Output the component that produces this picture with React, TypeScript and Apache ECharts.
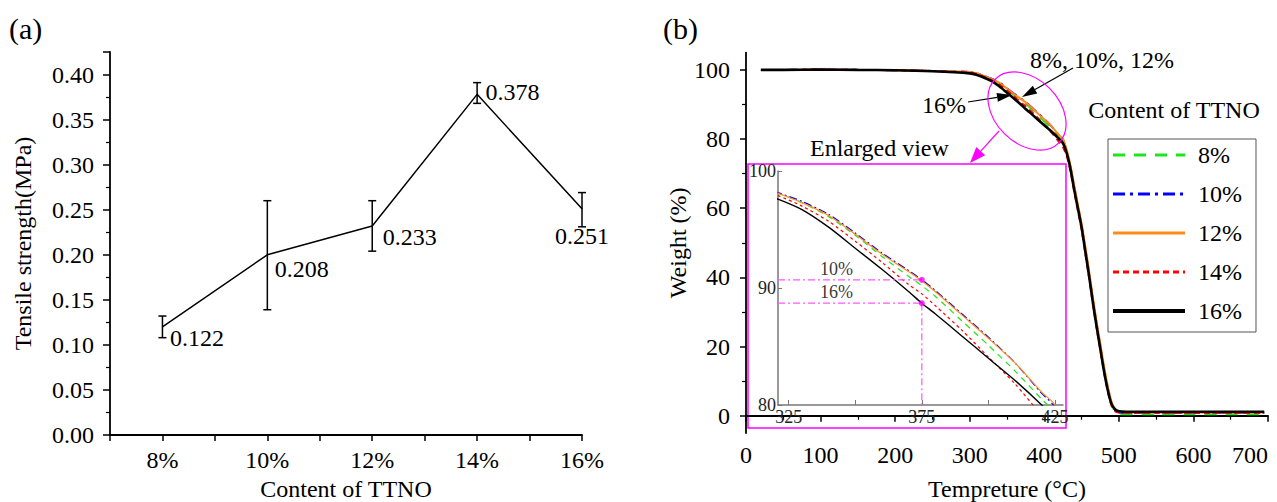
import React, { useEffect, useRef } from "react";
import * as echarts from "echarts";

const FONT = "Liberation Serif";

// ---- (a) tensile strength ----
const contents = [8, 10, 12, 14, 16];
const strength = [0.12, 0.2, 0.232, 0.378, 0.251];
const strengthLabels = ["0.122", "0.208", "0.233", "0.378", "0.251"];
const errLow = [0.108, 0.139, 0.204, 0.368, 0.231];
const errHigh = [0.132, 0.26, 0.26, 0.391, 0.269];

// ---- (b) TGA ----
const temps = [20, 50, 100, 150, 200, 250, 300, 310,
  321, 330, 340, 350, 360, 370, 375, 380, 390, 400, 410, 420, 425,
  430, 435, 440, 445, 450, 455, 460, 465, 470, 475, 480, 485, 490, 495, 500,
  510, 550, 600, 650, 695];
const w8 = [100, 100, 100.1, 100, 99.9, 99.7, 99.3, 98.9,
  98.1, 97.3, 96.1, 94.5, 92.7, 91.0, 90.2, 89.3, 87.2, 85.1, 82.9, 80.5, 79.3,
  76.3, 71.8, 66.0, 60.3, 54.8, 48.0, 41.0, 33.5, 26.5, 20.0, 13.5, 8.0, 3.5, 1.2, 0.5,
  0.4, 0.4, 0.4, 0.4, 0.4];
const w10 = [100, 100, 100.1, 100, 99.9, 99.7, 99.4, 99.0,
  98.15, 97.4, 96.3, 94.7, 93.0, 91.5, 90.7, 89.8, 87.8, 85.8, 83.6, 81.0, 79.8,
  76.5, 72.0, 66.3, 60.6, 55.0, 48.3, 41.3, 33.8, 26.8, 20.3, 13.8, 8.2, 3.8, 1.6, 1.0,
  0.8, 0.8, 0.8, 0.8, 0.8];
const w12 = [100, 100, 100.1, 100, 99.9, 99.7, 99.4, 99.0,
  98.1, 97.3, 96.2, 94.6, 92.9, 91.4, 90.6, 89.7, 87.7, 85.7, 83.6, 81.1, 80.0,
  76.9, 72.5, 66.8, 61.2, 55.6, 49.0, 42.0, 34.5, 27.5, 21.0, 14.5, 8.8, 4.2, 1.9, 1.1,
  0.9, 0.9, 0.9, 0.9, 0.9];
const w14 = [100, 100, 100.1, 100, 99.9, 99.7, 99.2, 98.8,
  97.9, 97.0, 95.7, 94.0, 92.2, 90.3, 89.5, 88.5, 86.4, 84.1, 81.8, 79.1, 77.7,
  75.2, 70.8, 65.0, 59.3, 53.8, 47.0, 40.0, 32.6, 25.6, 19.2, 12.7, 7.2, 3.0, 1.3, 0.9,
  0.8, 0.8, 0.8, 0.8, 0.8];
const w16 = [100, 100, 100.1, 100, 99.9, 99.6, 99.0, 98.5,
  97.6, 96.7, 95.2, 93.4, 91.6, 89.7, 88.7, 87.8, 85.9, 84.0, 82.1, 80.0, 78.8,
  76.0, 71.5, 65.5, 60.0, 54.5, 47.5, 40.5, 33.0, 26.0, 19.5, 13.0, 7.5, 3.5, 1.8, 1.3,
  1.15, 1.15, 1.15, 1.15, 1.15];
const seriesNames = ["8%", "10%", "12%", "14%", "16%"];
const weights = [w8, w10, w12, w14, w16];

const yTicksMajor = [0, 20, 40, 60, 80, 100];
const yTicksMinor = [10, 30, 50, 70, 90];
const insetXLabels = [325, 375, 425];
const insetXTicks = [325, 350, 375, 400, 425];
const guideTemp = 375;
const guideWeights = [90.7, 88.7];
const guideLabels = ["10%", "16%"];
const guideLabelTemp = 343;

const lineStyles: any[] = [
  { color: "#1ee61e", width: 2, type: [12, 9] },
  { color: "#0000ff", width: 2, type: [12, 5, 3, 5] },
  { color: "#ff8c1a", width: 2, type: "solid" },
  { color: "#ff0000", width: 2, type: [6, 4] },
  { color: "#000000", width: 2.6, type: "solid" },
];
const legendWidths = [3, 3, 3, 3, 4];
const insetStyles: any[] = [
  { width: 1.2, type: [6, 5] },
  { width: 1.2, type: [8, 3, 2, 3] },
  { width: 1.2, type: "solid" },
  { width: 1.2, type: [3, 3] },
  { width: 1.4, type: "solid" },
];

function arrow(x1: number, y1: number, x2: number, y2: number, color: string, len: number, half: number) {
  const dx = x2 - x1, dy = y2 - y1;
  const L = Math.hypot(dx, dy);
  const ux = dx / L, uy = dy / L;
  const bx = x2 - ux * len, by = y2 - uy * len;
  const px = -uy, py = ux;
  return [
    { type: "line", shape: { x1, y1, x2: bx, y2: by }, style: { stroke: color, lineWidth: 1.2 } },
    { type: "polygon", shape: { points: [[x2, y2], [bx + px * half, by + py * half], [bx - px * half, by - py * half]] }, style: { fill: color } },
  ];
}

const labelOffsets: any[] = [
  { position: "right", offset: [2, 11] },
  { position: "right", offset: [2, 14] },
  { position: "right", offset: [5, 11] },
  { position: "right", offset: [3, -2] },
  { position: "bottom", offset: [0, 10] },
];

export default function App() {
  const ref = useRef<HTMLDivElement>(null);
  useEffect(() => {
    document.body.style.margin = "0";
    const chart = echarts.init(ref.current!, undefined, { renderer: "svg" });
    const txt = { fontFamily: FONT, color: "#000" };
    const axisBlack = { lineStyle: { color: "#000", width: 1.8 } };

    const mainSeries = weights.map((w, i) => ({
      name: seriesNames[i],
      type: "line",
      xAxisIndex: 1,
      yAxisIndex: 1,
      symbol: "none",
      smooth: 0.25,
      lineStyle: lineStyles[i],
      itemStyle: { color: lineStyles[i].color },
      data: temps.map((t, k) => [t, w[k]]),
      z: 3 + i,
    }));
    const insetSeries = weights.map((w, i) => ({
      name: seriesNames[i],
      type: "line",
      xAxisIndex: 2,
      yAxisIndex: 3,
      symbol: "none",
      smooth: 0.25,
      clip: true,
      lineStyle: { ...lineStyles[i], ...insetStyles[i] },
      itemStyle: { color: lineStyles[i].color },
      data: temps.map((t, k) => [t, w[k]]),
      z: 3 + i,
    }));
    const guideStyle = { color: "#ff55ff", width: 1.2, type: [7, 3, 2, 3] };
    const guideSeries: any[] = [
      ...guideWeights.map((g, i) => ({
        name: "guide" + i, type: "line", xAxisIndex: 2, yAxisIndex: 3, symbol: "none",
        lineStyle: guideStyle, data: [[321, g], [guideTemp, g]], z: 10,
      })),
      {
        name: "guideV", type: "line", xAxisIndex: 2, yAxisIndex: 3, symbol: "none",
        lineStyle: guideStyle, data: [[guideTemp, guideWeights[1]], [guideTemp, 80]], z: 10,
      },
      {
        name: "guideDots", type: "scatter", xAxisIndex: 2, yAxisIndex: 3, symbolSize: 6,
        itemStyle: { color: "#ff00ff" }, data: guideWeights.map((g) => [guideTemp, g]), z: 11,
      },
      {
        name: "guideText", type: "scatter", xAxisIndex: 2, yAxisIndex: 3, symbolSize: 0,
        data: guideWeights.map((g, i) => ({ value: [guideLabelTemp, g], label: { formatter: guideLabels[i] } })),
        label: { show: true, position: "top", distance: 2, fontSize: 18, ...txt },
        z: 11,
      },
    ];

    chart.setOption({
      animation: false,
      textStyle: { fontFamily: FONT },
      grid: [
        { left: 110, top: 52, width: 472, height: 383, outerBoundsMode: "none" },
        { left: 746, top: 52.6, width: 522, height: 380.4, outerBoundsMode: "none" },
        { left: 778, top: 171, width: 285, height: 234, outerBoundsMode: "none" },
      ],
      xAxis: [
        {
          gridIndex: 0, type: "value", min: 7, max: 16, interval: 1,
          name: "Content of TTNO", nameLocation: "middle", nameGap: 41,
          nameTextStyle: { ...txt, fontSize: 24 },
          axisLine: axisBlack,
          axisTick: { show: true, length: 6, lineStyle: { color: "#000", width: 1.5 } },
          axisLabel: { ...txt, fontSize: 24, margin: 13, formatter: (v: number) => (v % 2 === 0 ? v + "%" : "") },
          splitLine: { show: false },
        },
        {
          gridIndex: 1, type: "value", min: 0, max: 700, interval: 100,
          name: "Tempreture (°C)", nameLocation: "middle", nameGap: 44,
          nameTextStyle: { ...txt, fontSize: 24 },
          axisLine: axisBlack,
          axisTick: { show: true, length: 6, lineStyle: { color: "#000", width: 1.5 } },
          minorTick: { show: true, splitNumber: 2, length: 4, lineStyle: { color: "#000", width: 1.2 } },
          axisLabel: { ...txt, fontSize: 24, margin: 10, hideOverlap: false, alignMaxLabel: "right" },
          splitLine: { show: false },
        },
        {
          gridIndex: 2, type: "value", min: 321, max: 428,
          axisLine: { lineStyle: { color: "#777", width: 1.5 } },
          axisTick: { show: true, inside: true, length: 5, customValues: insetXTicks, lineStyle: { color: "#777" } },
          axisLabel: { ...txt, fontSize: 18, margin: 3, customValues: insetXLabels, color: "#222" },
          splitLine: { show: false },
        },
      ],
      yAxis: [
        {
          gridIndex: 0, type: "value", min: 0, max: 0.425, interval: 0.05,
          name: "Tensile strength(MPa)", nameLocation: "middle", nameGap: 75,
          nameTextStyle: { ...txt, fontSize: 24 },
          axisLine: { show: true, ...axisBlack },
          axisTick: { show: true, length: 7, lineStyle: { color: "#000", width: 1.5 } },
          minorTick: { show: true, splitNumber: 2, length: 4, lineStyle: { color: "#000", width: 1.2 } },
          axisLabel: { ...txt, fontSize: 24, margin: 16, showMaxLabel: false, formatter: (v: number) => v.toFixed(2) },
          splitLine: { show: false },
        },
        {
          gridIndex: 1, type: "value", min: -5, max: 105,
          name: "Weight (%)", nameLocation: "middle", nameGap: 53,
          nameTextStyle: { ...txt, fontSize: 24 },
          axisLine: { show: true, ...axisBlack },
          axisTick: { show: true, length: 6, customValues: yTicksMajor, lineStyle: { color: "#000", width: 1.5 } },
          axisLabel: { ...txt, fontSize: 24, margin: 16, customValues: yTicksMajor },
          splitLine: { show: false },
        },
        {
          gridIndex: 1, type: "value", min: -5, max: 105, position: "left",
          axisLine: { show: false },
          axisTick: { show: true, length: 4, customValues: yTicksMinor, lineStyle: { color: "#000", width: 1.2 } },
          axisLabel: { show: false },
          splitLine: { show: false },
        },
        {
          gridIndex: 2, type: "value", min: 80, max: 100, interval: 10,
          axisLine: { show: true, lineStyle: { color: "#777", width: 1.5 } },
          axisTick: { show: true, inside: true, length: 4, lineStyle: { color: "#777" } },
          axisLabel: { ...txt, fontSize: 18, margin: 2, color: "#222" },
          splitLine: { show: false },
        },
      ],
      legend: {
        orient: "vertical", left: 1108, top: 139,
        padding: [4, 14, 9, 3], itemWidth: 72, itemHeight: 24, itemGap: 15,
        borderColor: "#555", borderWidth: 1,
        itemStyle: { opacity: 0 },
        textStyle: { ...txt, fontSize: 24, padding: [0, 0, 0, 8] },
        data: seriesNames.map((n, i) => ({ name: n, lineStyle: { width: legendWidths[i] } })),
        selectedMode: false,
      },
      graphic: [
        { type: "text", x: 9, y: 28, style: { text: "(a)", font: `30px "${FONT}"`, fill: "#000", verticalAlign: "middle" } },
        { type: "text", x: 663, y: 28, style: { text: "(b)", font: `30px "${FONT}"`, fill: "#000", verticalAlign: "middle" } },
        { type: "text", x: 810, y: 148, style: { text: "Enlarged view", font: `24px "${FONT}"`, fill: "#000", verticalAlign: "middle" } },
        { type: "text", x: 966, y: 105, style: { text: "16%", font: `24px "${FONT}"`, fill: "#000", align: "right", verticalAlign: "middle" } },
        { type: "text", x: 1030, y: 60, style: { text: "8%, 10%, 12%", font: `24px "${FONT}"`, fill: "#000", verticalAlign: "middle" } },
        { type: "text", x: 1174, y: 110, style: { text: "Content of TTNO", font: `24px "${FONT}"`, fill: "#000", align: "center", verticalAlign: "middle" } },
        { type: "rect", shape: { x: 748, y: 164, width: 318, height: 264 }, style: { stroke: "#ff00ff", lineWidth: 1.5, fill: null } },
        { type: "ellipse", x: 1027, y: 111, rotation: -Math.PI / 4, shape: { cx: 0, cy: 0, rx: 45, ry: 32 }, style: { stroke: "#ff00ff", lineWidth: 1.2, fill: null }, z: 20 },
        ...arrow(999, 131, 970, 163, "#ff00ff", 16, 6),
        ...arrow(968, 102, 1012, 95, "#000", 15, 4.5),
        ...arrow(1073, 68, 1022, 97, "#000", 15, 4.5),
      ],
      series: [
        {
          name: "strength", type: "line", xAxisIndex: 0, yAxisIndex: 0,
          symbol: "circle", symbolSize: 1,
          itemStyle: { color: "#000" },
          lineStyle: { color: "#000", width: 1.5 },
          data: contents.map((c, i) => ({
            value: [c, strength[i]],
            label: { show: true, ...labelOffsets[i], formatter: strengthLabels[i], fontSize: 24, ...txt },
          })),
        },
        {
          name: "error", type: "custom", xAxisIndex: 0, yAxisIndex: 0,
          data: contents.map((c, i) => [c, errLow[i], errHigh[i]]),
          encode: { x: 0, y: [1, 2] },
          renderItem: (params: any, api: any) => {
            const x = api.value(0);
            const lo = api.coord([x, api.value(1)]);
            const hi = api.coord([x, api.value(2)]);
            const w = 4;
            const st = { stroke: "#000", lineWidth: 1.5 };
            return {
              type: "group",
              children: [
                { type: "line", shape: { x1: lo[0], y1: lo[1], x2: hi[0], y2: hi[1] }, style: st },
                { type: "line", shape: { x1: lo[0] - w, y1: lo[1], x2: lo[0] + w, y2: lo[1] }, style: st },
                { type: "line", shape: { x1: hi[0] - w, y1: hi[1], x2: hi[0] + w, y2: hi[1] }, style: st },
              ],
            };
          },
          z: 5,
        },
        ...mainSeries,
        ...insetSeries,
        ...guideSeries,
      ],
    });
    return () => chart.dispose();
  }, []);
  return <div ref={ref} style={{ width: 1277, height: 502 }} />;
}
